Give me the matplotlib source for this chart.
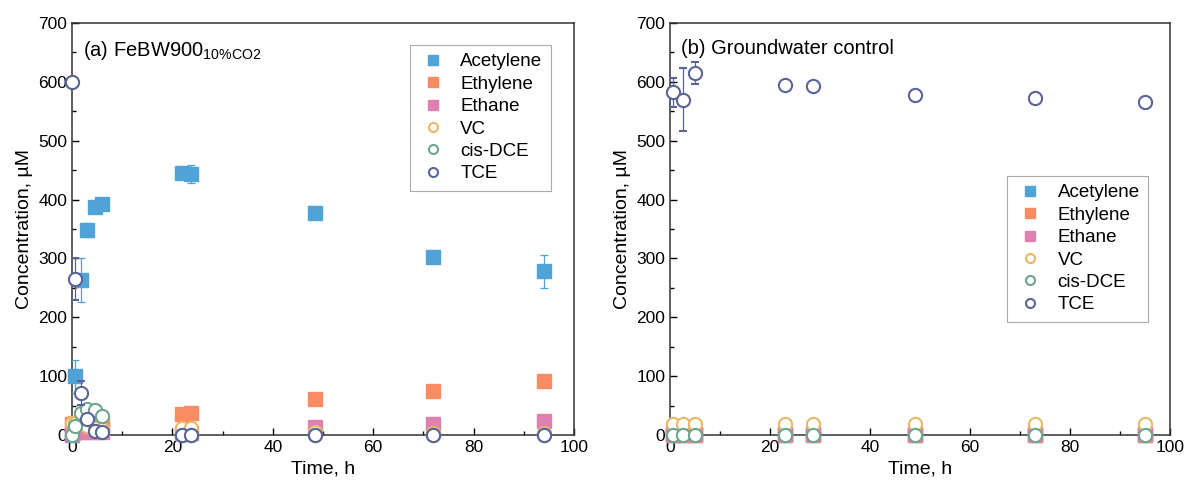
import matplotlib.pyplot as plt
from matplotlib.ticker import MultipleLocator

plt.rcParams['font.family'] = ['Liberation Sans', 'DejaVu Sans']
plt.rcParams['mathtext.fontset'] = 'custom'
plt.rcParams['mathtext.rm'] = 'Liberation Sans'

species = ['Acetylene', 'Ethylene', 'Ethane', 'VC', 'cis-DCE', 'TCE']

# panel (a) FeBW900 10%CO2
t_a = [0, 0.5, 1.7, 3, 4.5, 6, 22, 23.7, 48.5, 72, 94]
acetylene_a = [0, 100, 263, 349, 388, 392, 445, 443, 378, 302, 278]
acetylene_a_err = [0, 28, 37, 12, 8, 5, 5, 15, 8, 5, 28]
ethylene_a = [18, 20, 20, 20, 18, 18, 35, 37, 61, 75, 91]
ethane_a = [2, 5, 5, 5, 5, 5, 3, 3, 13, 19, 24]
vc_a = [20, 20, 18, 15, 12, 10, 12, 12, 5, 4, 3]
vc_a_err = [3, 3, 3, 3, 3, 3, 4, 4, 4, 4, 4]
dce_a = [0, 15, 38, 45, 42, 33, 0, 0, 0, 0, 0]
dce_a_err = [0, 3, 4, 4, 4, 4, 1, 1, 1, 1, 1]
tce_a = [600, 265, 71, 27, 6, 5, 0, 0, 0, 0, 0]
tce_a_err = [0, 36, 20, 5, 3, 2, 3, 3, 3, 3, 3]

# panel (b) groundwater control
t_b = [0.5, 2.5, 5, 23, 28.5, 49, 73, 95]
acetylene_b = [0, 0, 0, 0, 0, 0, 0, 0]
ethylene_b = [0, 0, 0, 0, 0, 0, 0, 0]
ethane_b = [1, 1, 1, 1, 1, 1, 1, 1]
vc_b = [19, 19, 19, 19, 19, 19, 19, 19]
vc_b_err = [4, 4, 4, 4, 4, 4, 4, 4]
dce_b = [0, 0, 0, 0, 0, 0, 0, 0]
dce_b_err = [2, 2, 2, 2, 2, 2, 2, 2]
tce_b = [582, 570, 615, 594, 593, 578, 572, 566]
tce_b_err = [24, 53, 18, 6, 3, 9, 5, 9]

colors = ['#4fa3d6', '#fa8c64', '#df80b0', '#e8b865', '#6fa58a', '#5a6496']

fig = plt.figure(figsize=(11.92, 4.95), dpi=100)
ax_a = fig.add_axes([0.0604, 0.1212, 0.4211, 0.8323])
ax_b = fig.add_axes([0.5621, 0.1212, 0.4195, 0.8323])


def draw_panel(ax, t, squares, circles, title, legend_anchor):
    # squares: list of (values, err); circles: list of (values, err)
    for i, (vals, err) in enumerate(squares):
        ax.errorbar(t, vals, yerr=err, fmt='s', ms=9.5, color=colors[i],
                    mec=colors[i], ecolor=colors[i], elinewidth=0.9,
                    capsize=3, capthick=0.9, clip_on=False, zorder=3)
    for j, (vals, err) in enumerate(circles):
        c = colors[3 + j]
        ax.errorbar(t, vals, yerr=err, fmt='o', ms=9.5, mfc='white',
                    mec=c, mew=1.5, ecolor=c, elinewidth=0.9,
                    capsize=3, capthick=0.9, clip_on=False, zorder=4 + j)

    ax.set_xlim(0, 100)
    ax.set_ylim(0, 700)
    ax.xaxis.set_major_locator(MultipleLocator(20))
    ax.xaxis.set_minor_locator(MultipleLocator(10))
    ax.yaxis.set_major_locator(MultipleLocator(100))
    ax.yaxis.set_minor_locator(MultipleLocator(50))
    ax.tick_params(which='both', direction='in', top=False, right=False,
                   labelsize=12.5, width=1)
    ax.tick_params(which='major', length=5)
    ax.tick_params(which='minor', length=3)
    for s in ax.spines.values():
        s.set_linewidth(1.1)
        s.set_color('#333333')
    ax.set_xlabel('Time, h', fontsize=14)
    ax.set_ylabel('Concentration, µM', fontsize=14)
    ax.text(0.022, 0.96, title, transform=ax.transAxes, fontsize=14.5,
            va='top', ha='left')

    leg_handles = []
    for i in range(3):
        leg_handles.append(plt.Line2D([], [], ls='none', marker='s', ms=6.5,
                                      color=colors[i]))
    for j in range(3):
        leg_handles.append(plt.Line2D([], [], ls='none', marker='o', ms=6.5,
                                      mfc='white', mec=colors[3 + j], mew=1.5))
    leg = ax.legend(leg_handles, species, loc='upper right',
                    bbox_to_anchor=legend_anchor, borderaxespad=0,
                    fontsize=13.5, frameon=True,
                    fancybox=False, edgecolor='#aaaaaa', framealpha=1,
                    handletextpad=0.65, labelspacing=0.28, borderpad=0.45,
                    handlelength=1.6)
    leg.get_frame().set_linewidth(0.8)


draw_panel(ax_a, t_a,
           [(acetylene_a, acetylene_a_err), (ethylene_a, None), (ethane_a, None)],
           [(vc_a, vc_a_err), (dce_a, dce_a_err), (tce_a, tce_a_err)],
           r'(a) FeBW900$_{\mathregular{10\%CO2}}$', (0.954, 0.947))

draw_panel(ax_b, t_b,
           [(acetylene_b, None), (ethylene_b, None), (ethane_b, None)],
           [(vc_b, vc_b_err), (dce_b, dce_b_err), (tce_b, tce_b_err)],
           '(b) Groundwater control', (0.956, 0.629))

fig.savefig('out.png', dpi=100)
